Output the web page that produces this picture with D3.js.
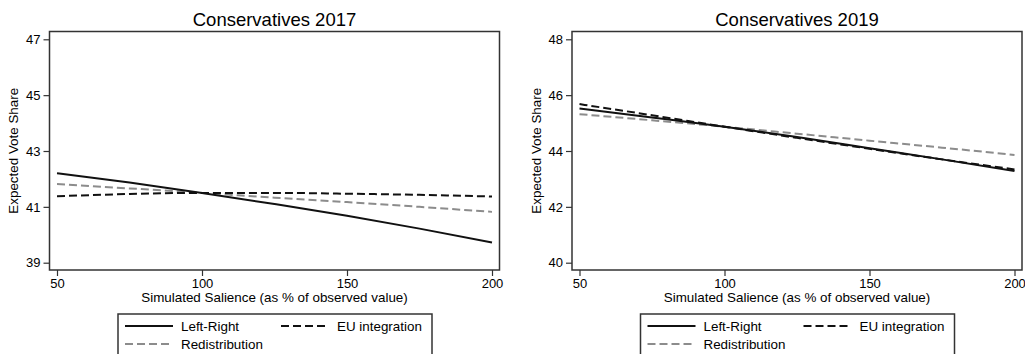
<!DOCTYPE html>
<html>
<head>
<meta charset="utf-8">
<script src="https://cdn.jsdelivr.net/npm/d3@7"></script>
<style>
  body { margin: 0; background: #fff; }
  svg { display: block; font-family: "Liberation Sans", Arial, sans-serif; }
</style>
</head>
<body>
<div id="rendering"></div>
<script>
const salience = [50, 75, 100, 125, 150, 175, 200];
const xTicks = [50, 100, 150, 200];

const titles = ["Conservatives 2017", "Conservatives 2019"];
const yTicks2017 = [39, 41, 43, 45, 47];
const yTicks2019 = [40, 42, 44, 46, 48];

const leftRight2017 = [42.2, 41.87, 41.5, 41.1, 40.68, 40.22, 39.72];
const euIntegration2017 = [41.38, 41.46, 41.5, 41.5, 41.47, 41.43, 41.37];
const redistribution2017 = [41.82, 41.66, 41.5, 41.33, 41.17, 41.0, 40.82];

const leftRight2019 = [45.52, 45.2, 44.87, 44.5, 44.1, 43.7, 43.28];
const euIntegration2019 = [45.68, 45.28, 44.87, 44.47, 44.08, 43.7, 43.34];
const redistribution2019 = [45.32, 45.1, 44.87, 44.62, 44.37, 44.12, 43.86];

const seriesNames = ["Left-Right", "EU integration", "Redistribution"];

const width = 1025;
const height = 354;

const styles = {
  "Left-Right": { stroke: "#111", dash: null },
  "EU integration": { stroke: "#111", dash: "8,4" },
  "Redistribution": { stroke: "#8c8c8c", dash: "8,4" },
};

const svg = d3
  .select("#rendering")
  .append("svg")
  .attr("width", width)
  .attr("height", height);

function drawPanel(offsetX, title, yTicks, series) {
  const frame = { left: 49.5, right: 499.5, top: 31.5, bottom: 270 };

  const g = svg.append("g").attr("transform", `translate(${offsetX}, 0)`);

  const scaleX = d3.scaleLinear().domain([50, 200]).range([57, 492]);
  const scaleY = d3
    .scaleLinear()
    .domain([yTicks[0], yTicks[yTicks.length - 1]])
    .range([262.7, 39.3]);

  g.append("rect")
    .attr("x", frame.left)
    .attr("y", frame.top)
    .attr("width", frame.right - frame.left)
    .attr("height", frame.bottom - frame.top)
    .attr("fill", "white")
    .attr("stroke", "#333")
    .attr("stroke-width", 1.5);

  const line = d3
    .line()
    .x((d) => scaleX(d[0]))
    .y((d) => scaleY(d[1]))
    .curve(d3.curveMonotoneX);

  // redistribution first so the black lines sit on top
  [2, 1, 0].forEach((i) => {
    const name = seriesNames[i];
    g.append("path")
      .datum(salience.map((s, j) => [s, series[i][j]]))
      .attr("d", line)
      .attr("fill", "none")
      .attr("stroke", styles[name].stroke)
      .attr("stroke-width", 2)
      .attr("stroke-dasharray", styles[name].dash);
  });

  const xAxis = g
    .append("g")
    .attr("transform", `translate(0, ${frame.bottom})`)
    .call(d3.axisBottom(scaleX).tickValues(xTicks).tickSize(6).tickPadding(3));

  const yAxis = g
    .append("g")
    .attr("transform", `translate(${frame.left}, 0)`)
    .call(d3.axisLeft(scaleY).tickValues(yTicks).tickSize(6).tickPadding(3));

  [xAxis, yAxis].forEach((ax) => {
    ax.select(".domain").remove();
    ax.selectAll(".tick line").attr("stroke", "#333").attr("stroke-width", 1.2);
    ax.selectAll(".tick text")
      .attr("fill", "#000")
      .style("font-size", "13px")
      .style("font-family", '"Liberation Sans", Arial, sans-serif');
  });

  g.append("text")
    .attr("x", (frame.left + frame.right) / 2)
    .attr("y", 26)
    .attr("text-anchor", "middle")
    .attr("fill", "#000")
    .style("font-size", "18.5px")
    .text(title);

  g.append("text")
    .attr("x", (frame.left + frame.right) / 2)
    .attr("y", 302)
    .attr("text-anchor", "middle")
    .attr("fill", "#000")
    .style("font-size", "13.4px")
    .text("Simulated Salience (as % of observed value)");

  g.append("text")
    .attr("transform", `translate(18, ${(frame.top + frame.bottom) / 2}) rotate(-90)`)
    .attr("text-anchor", "middle")
    .attr("fill", "#000")
    .style("font-size", "13.4px")
    .text("Expected Vote Share");

  // legend
  const legend = g.append("g").attr("transform", "translate(118, 314)");
  legend
    .append("rect")
    .attr("width", 314)
    .attr("height", 60)
    .attr("fill", "white")
    .attr("stroke", "#333")
    .attr("stroke-width", 1.5);

  const slots = [
    { x: 7, y: 12 },
    { x: 163, y: 12 },
    { x: 7, y: 30 },
  ];
  seriesNames.forEach((name, i) => {
    const s = slots[i];
    legend
      .append("line")
      .attr("x1", s.x)
      .attr("x2", s.x + 48)
      .attr("y1", s.y)
      .attr("y2", s.y)
      .attr("stroke", styles[name].stroke)
      .attr("stroke-width", 2)
      .attr("stroke-dasharray", styles[name].dash);
    legend
      .append("text")
      .attr("x", s.x + 56)
      .attr("y", s.y + 5)
      .attr("fill", "#000")
      .style("font-size", "13.4px")
      .text(name);
  });
}

drawPanel(0, titles[0], yTicks2017, [leftRight2017, euIntegration2017, redistribution2017]);
drawPanel(522.5, titles[1], yTicks2019, [leftRight2019, euIntegration2019, redistribution2019]);
</script>
</body>
</html>
